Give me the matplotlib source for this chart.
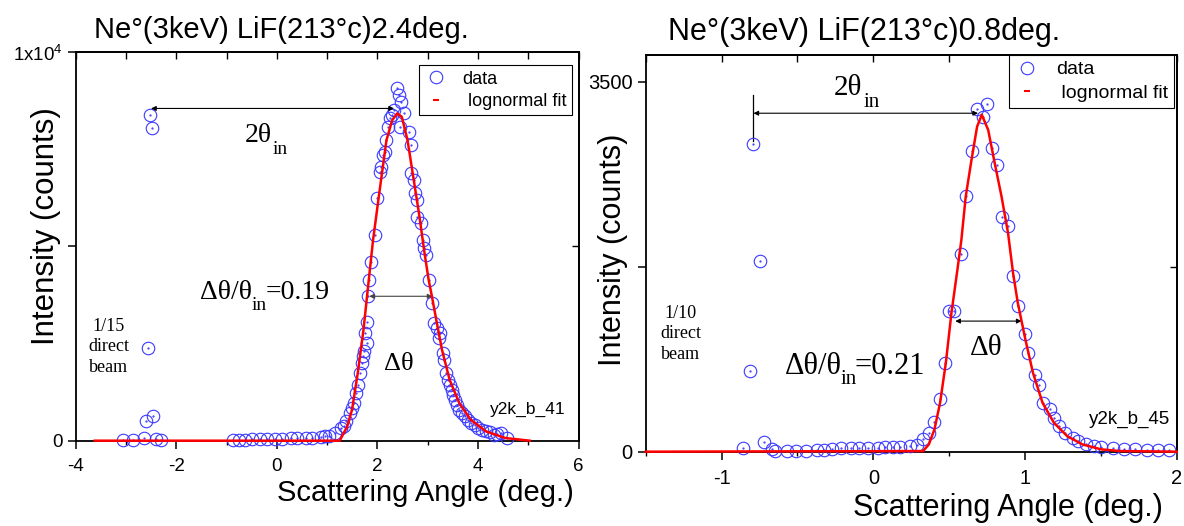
import matplotlib.pyplot as plt
from matplotlib.lines import Line2D
from matplotlib.ticker import FixedLocator, MultipleLocator, FixedFormatter

plt.rcParams['font.family'] = ['Liberation Sans', 'DejaVu Sans']
plt.rcParams['mathtext.fontset'] = 'custom'
plt.rcParams['mathtext.rm'] = 'Liberation Sans'
plt.rcParams['axes.unicode_minus'] = False

SERIF = ['Liberation Serif', 'DejaVu Serif']
BLUE = '#3a3aff'

# ---- left panel: 2.4 deg ----
left_beam_x = [-3.05, -2.85, -2.64, -2.61, -2.56, -2.516, -2.486, -2.47, -2.40, -2.30]
left_beam_y = [20, 25, 69, 498, 2377, 8383, 8057, 635, 40, 20]

left_base_x = [-0.865, -0.75, -0.636, -0.5, -0.332, -0.2, -0.027, 0.1, 0.277, 0.4,
               0.581, 0.7, 0.886, 0.95, 1.038, 1.152]
left_base_y = [25, 28, 30, 32, 35, 38, 40, 45, 60, 62, 70, 80, 95, 110, 130, 200]

left_peak_x = [1.266, 1.342, 1.380, 1.457, 1.495, 1.533, 1.571, 1.609, 1.647, 1.685,
               1.708, 1.723, 1.761, 1.784, 1.799, 1.822, 1.837, 1.875, 1.951, 1.989,
               2.043, 2.065, 2.104, 2.142, 2.180, 2.218, 2.256, 2.294, 2.332, 2.393,
               2.431, 2.446, 2.469, 2.537, 2.621, 2.674, 2.674, 2.727, 2.750, 2.788,
               2.788, 2.864, 2.902, 2.925, 2.956, 3.032, 3.078, 3.131, 3.19, 3.22,
               3.245, 3.306, 3.321, 3.359, 3.397, 3.435, 3.473, 3.511, 3.550, 3.588,
               3.626, 3.687, 3.740, 3.793, 3.854, 3.930, 4.006, 4.082, 4.158, 4.235,
               4.311, 4.387, 4.447, 4.577]
left_peak_y = [325, 386, 500, 715, 841, 970, 1230, 1440, 1740, 1990,
               2171, 2300, 2770, 2514, 3060, 3720, 4140, 4607, 5294, 6238,
               6924, 7053, 7353, 7439, 7739, 8082, 8297, 8383, 8511, 9069,
               8897, 8082, 8726, 8425, 7954, 7610, 6881, 6710, 6366, 6195,
               5766, 5594, 5165, 4951, 4779, 4144, 3544, 3029, 2900, 2650,
               2771, 2257, 2085, 1742, 1570, 1441, 1313, 1184, 1055, 927,
               798, 712, 626, 540, 455, 412, 326, 283, 240, 215,
               154, 180, 200, 70]

left_fit_x = [-3.62, 1.25, 1.40, 1.495, 1.609, 1.723, 1.814, 1.913, 2.027, 2.18,
              2.294, 2.393, 2.484, 2.598, 2.712, 2.826, 2.94, 3.017, 3.093, 3.169,
              3.283, 3.435, 3.626, 3.854, 4.158, 4.539, 5.03]
left_fit_y = [0, 0, 370, 798, 1742, 2857, 3972, 5165, 6281, 7739,
              8254, 8425, 8340, 7739, 6795, 5852, 4800, 4150, 3650, 3115,
              2342, 1570, 970, 540, 240, 69, 0]

# ---- right panel: 0.8 deg ----
right_x = [-0.858, -0.816, -0.79, -0.75, -0.72, -0.67, -0.645, -0.57, -0.51, -0.447,
           -0.372, -0.322, -0.272, -0.21, -0.147, -0.097, -0.034, 0.028, 0.078, 0.128,
           0.178, 0.240, 0.290, 0.328, 0.369, 0.403, 0.440, 0.473, 0.496, 0.531,
           0.581, 0.614, 0.649, 0.68, 0.72, 0.752, 0.783, 0.816, 0.851, 0.888,
           0.921, 0.952, 0.997, 1.022, 1.064, 1.089, 1.121, 1.164, 1.189, 1.227,
           1.264, 1.314, 1.352, 1.402, 1.452, 1.502, 1.577, 1.652, 1.727, 1.802,
           1.877, 1.952]
right_y = [32, 763, 2912, 1799, 95, 22, 6, 6, 6, 6,
           13, 19, 22, 32, 32, 32, 35, 38, 44, 47,
           47, 54, 60, 117, 180, 280, 501, 841, 1330, 1330,
           1871, 2420, 2848, 3239, 3169, 3289, 2870, 2713, 2215, 2130,
           1657, 1377, 1109, 930, 722, 627, 463, 400, 321, 243,
           180, 132, 101, 69, 54, 44, 35, 28, 22, 19,
           16, 13]

right_fit_x = [-1.5, 0.328, 0.366, 0.403, 0.440, 0.478, 0.515, 0.555, 0.58, 0.609,
               0.647, 0.684, 0.715, 0.757, 0.80, 0.845, 0.888, 0.921, 0.952, 1.002,
               1.052, 1.115, 1.19, 1.277, 1.377, 1.502, 1.627, 2.0]
right_fit_y = [0, 6, 69, 211, 463, 841, 1314, 1730, 2000, 2413,
               2760, 3075, 3186, 3043, 2729, 2413, 2067, 1689, 1408, 1062,
               747, 463, 274, 148, 69, 22, 6, 0]

titles = ['Ne\u00b0(3keV) LiF(213\u00b0c)2.4deg.', 'Ne\u00b0(3keV) LiF(213\u00b0c)0.8deg.']


def style_axes(ax, xlim, ylim, xmaj, xmin, yticks, ylabels, top_step, right_ticks, fs):
    ax.set_xlim(*xlim)
    ax.set_ylim(*ylim)
    ax.xaxis.set_major_locator(MultipleLocator(xmaj))
    ax.xaxis.set_minor_locator(MultipleLocator(xmin))
    ax.yaxis.set_major_locator(FixedLocator(yticks))
    ax.yaxis.set_major_formatter(FixedFormatter(ylabels))
    ax.tick_params(which='major', direction='out', length=5.5, width=1.1,
                   labelsize=fs, top=False, right=False)
    ax.tick_params(axis='x', which='major', pad=7)
    ax.tick_params(axis='y', which='major', pad=4)
    ax.tick_params(which='minor', direction='out', length=3, width=1.0,
                   top=False, right=False)
    for s in ax.spines.values():
        s.set_linewidth(1.3)
    top = ax.secondary_xaxis('top')
    top.xaxis.set_major_locator(MultipleLocator(top_step))
    top.tick_params(direction='in', length=5, width=1.0, labeltop=False)
    rgt = ax.secondary_yaxis('right')
    rgt.yaxis.set_major_locator(FixedLocator(right_ticks))
    rgt.tick_params(direction='in', length=5, width=1.0, labelright=False)
    for sec in (top, rgt):
        for s in sec.spines.values():
            s.set_linewidth(1.3)


def draw_data(ax, xs, ys):
    ax.plot(xs, ys, 'o', mfc='none', mec=BLUE, mew=0.8, ms=9, clip_on=False, zorder=3)
    ax.plot(xs, ys, '.', color=BLUE, ms=1.2, clip_on=False, zorder=3)


def add_legend(ax, anchor, fs):
    handles = [Line2D([], [], ls='none', marker='o', mfc='none', mec=BLUE, mew=0.8, ms=9),
               Line2D([], [], ls='none', marker='_', color='red', ms=5, mew=1.5)]
    leg = ax.legend(handles, ['data', ' lognormal fit'], loc='upper right',
                    bbox_to_anchor=anchor, borderaxespad=0, fancybox=False,
                    edgecolor='black', framealpha=1, fontsize=fs, handlelength=1.2,
                    handletextpad=0.9, borderpad=0.3, labelspacing=0.3)
    leg.get_frame().set_linewidth(0.8)
    leg.set_zorder(6)


def arrow(ax, x0, x1, y, color='black'):
    ax.annotate('', xy=(x1, y), xytext=(x0, y),
                arrowprops=dict(arrowstyle='<|-|>', color=color, lw=0.8,
                                mutation_scale=7, shrinkA=0, shrinkB=0))


fig = plt.figure(figsize=(11.84, 5.26), dpi=100)
axL = fig.add_axes([0.0639, 0.1622, 0.4248, 0.7384])
axR = fig.add_axes([0.5454, 0.1413, 0.4485, 0.7542])

# left panel
style_axes(axL, (-4, 6), (0, 10000), 2, 1, [0, 5000, 10000],
           ['0', '', '1x10$^{\\mathregular{4}}$'], 1, [5000], 13.5)
draw_data(axL, left_beam_x + left_base_x + left_peak_x,
          left_beam_y + left_base_y + left_peak_y)
axL.plot(left_fit_x, left_fit_y, color='red', lw=1.8, zorder=4, clip_on=False)
add_legend(axL, (0.986, 0.967), 13)
arrow(axL, -2.5, 2.33, 8554)
arrow(axL, 1.837, 3.093, 3718, color='#444444')
axL.text(-0.63, 7690, '2\u03b8', family=SERIF, fontsize=20, va='baseline')
axL.text(-0.09, 7380, 'in', family=SERIF, fontsize=14, va='baseline')
axL.text(-1.53, 3650, '\u0394\u03b8/\u03b8', family=SERIF, fontsize=20, va='baseline')
axL.text(-0.50, 3373, 'in', family=SERIF, fontsize=14, va='baseline')
axL.text(-0.217, 3650, '=0.19', family=SERIF, fontsize=20, va='baseline')
axL.text(2.14, 1820, '\u0394\u03b8', family=SERIF, fontsize=19, va='baseline')
axL.text(-3.34, 2413, '1/15\ndirect\nbeam', family=SERIF, fontsize=13,
         ha='center', va='center', multialignment='center', linespacing=1.25)
axL.text(4.98, 815, 'y2k_b_41', fontsize=12.5, ha='center', va='center')

# right panel
style_axes(axR, (-1.5, 2), (0, 3752), 1, 0.5, [0, 1750, 3500],
           ['0', '', '3500'], 0.5, [1750], 14.5)
draw_data(axR, right_x, right_y)
axR.plot(right_fit_x, right_fit_y, color='red', lw=1.8, zorder=4, clip_on=False)
add_legend(axR, (0.995, 1.0), 14)
arrow(axR, -0.79, 0.69, 3201)
axR.plot([-0.79, -0.79], [2934, 3375], color='black', lw=0.9)
arrow(axR, 0.54, 0.977, 1235)
axR.text(-0.259, 3374, '2\u03b8', family=SERIF, fontsize=21, va='baseline')
axR.text(-0.066, 3264, 'in', family=SERIF, fontsize=15, va='baseline')
axR.text(-0.584, 731, '\u0394\u03b8/\u03b8', family=SERIF, fontsize=22, va='baseline')
axR.text(-0.216, 636, 'in', family=SERIF, fontsize=15, va='baseline')
axR.text(-0.121, 731, '=0.21', family=SERIF, fontsize=22, va='baseline')
axR.text(0.636, 910, '\u0394\u03b8', family=SERIF, fontsize=21, va='baseline')
axR.text(-1.269, 1115, '1/10\ndirect\nbeam', family=SERIF, fontsize=13,
         ha='center', va='center', multialignment='center', linespacing=1.25)
axR.text(1.687, 302, 'y2k_b_45', fontsize=13.5, ha='center', va='center')

# titles and axis labels
fig.text(94 / 1184, 1 - 38 / 526, titles[0], fontsize=21, ha='left', va='baseline')
fig.text(668 / 1184, 1 - 40 / 526, titles[1], fontsize=22, ha='left', va='baseline')
fig.text(425.5 / 1184, 1 - 501 / 526, 'Scattering Angle (deg.)', fontsize=21,
         ha='center', va='baseline')
fig.text(1007.5 / 1184, 1 - 516 / 526, 'Scattering Angle (deg.)', fontsize=22,
         ha='center', va='baseline')
fig.text(46 / 1184, 1 - 226.5 / 526, 'Intensity (counts)', fontsize=22.5,
         rotation=90, ha='center', va='center')
fig.text(613 / 1184, 1 - 250 / 526, 'Intensity (counts)', fontsize=22,
         rotation=90, ha='center', va='center')

fig.savefig('out.png', dpi=100)
